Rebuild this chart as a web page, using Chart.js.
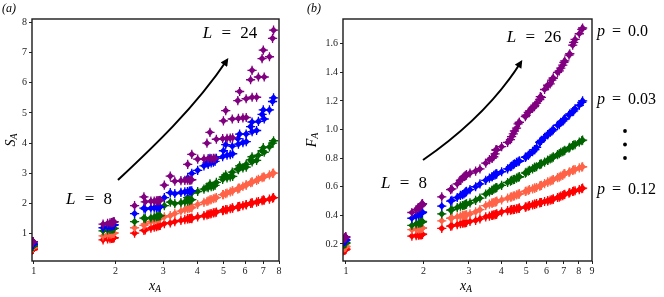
<!DOCTYPE html>
<html><head><meta charset="utf-8">
<script src="https://cdn.jsdelivr.net/npm/chart.js@4.4.1/dist/chart.umd.min.js"></script>
<style>
html,body{margin:0;padding:0;background:#fff;width:664px;height:297px;overflow:hidden;}
#wrap{position:relative;width:664px;height:297px;}
canvas{position:absolute;top:0;}
.t{position:absolute;font-family:"Liberation Serif","DejaVu Serif",serif;color:#000;white-space:nowrap;line-height:1;}
.c{transform:translate(-50%,-50%);}
.l{transform:translate(0,-50%);}
.r{transform:translate(-50%,-50%) rotate(-90deg);}
.i{font-style:italic;}
.ws{word-spacing:5px;}
.wp{word-spacing:3px;}
sub{font-size:70%;vertical-align:-0.25em;line-height:0;}
</style></head><body>
<div id="wrap">
<canvas id="ca" width="290" height="297" style="left:0"></canvas>
<canvas id="cb" width="300" height="297" style="left:300px"></canvas>
<svg width="664" height="297" style="position:absolute;left:0;top:0;pointer-events:none">
<defs><marker id="ah" viewBox="0 0 10 10" refX="7" refY="5" markerWidth="4.5" markerHeight="4" orient="auto" markerUnits="strokeWidth"><path d="M0,0 L10,5 L0,10 z" fill="#000"/></marker></defs>
<path d="M118,180 C150,150 195,108 227,60" stroke="#000" stroke-width="2" fill="none" marker-end="url(#ah)"/>
<path d="M423,160 C452,140 492,108 521,62" stroke="#000" stroke-width="2" fill="none" marker-end="url(#ah)"/>
<circle cx="625" cy="131" r="1.9" fill="#000"/>
<circle cx="625" cy="144.5" r="1.9" fill="#000"/>
<circle cx="625" cy="158" r="1.9" fill="#000"/>
</svg>
<div class="t" style="left:2px;top:2px;font-size:12px"><span class="i">(a)</span></div>
<div class="t" style="left:307px;top:2px;font-size:12px"><span class="i">(b)</span></div>
<div class="t r" style="left:11px;top:140px;font-size:14px"><span class="i">S<sub>A</sub></span></div>
<div class="t r" style="left:312px;top:140px;font-size:14px"><span class="i">F<sub>A</sub></span></div>
<div class="t c" style="left:155px;top:286px;font-size:14px"><span class="i">x<sub>A</sub></span></div>
<div class="t c" style="left:466px;top:286px;font-size:14px"><span class="i">x<sub>A</sub></span></div>
<div class="t c ws" style="left:230px;top:32px;font-size:17px"><span class="i">L</span> = 24</div>
<div class="t c ws" style="left:89px;top:198px;font-size:17px"><span class="i">L</span> = 8</div>
<div class="t c ws" style="left:534px;top:36px;font-size:17px"><span class="i">L</span> = 26</div>
<div class="t c ws" style="left:404px;top:182px;font-size:17px"><span class="i">L</span> = 8</div>
<div class="t l wp" style="left:597px;top:31px;font-size:16px"><span class="i">p</span> = 0.0</div>
<div class="t l wp" style="left:597px;top:99px;font-size:16px"><span class="i">p</span> = 0.03</div>
<div class="t l wp" style="left:597px;top:189px;font-size:16px"><span class="i">p</span> = 0.12</div>
</div>
<script>
// ---- tick labels ----
const xTicksA = [1, 2, 3, 4, 5, 6, 7, 8];
const yTicksA = [1, 2, 3, 4, 5, 6, 7, 8];
const xTicksB = [1, 2, 3, 4, 5, 6, 7, 8, 9];
const yTicksB = [0.2, 0.4, 0.6, 0.8, 1.0, 1.2, 1.4, 1.6];

// ---- x_A positions (grouped by L = 8,10,...,24) panel (a) ----
const xA_a = [
 0.974,1.801,2.352,2.546,
 0.984,1.871,2.575,3.027,3.183,
 0.989,1.910,2.701,3.308,3.690,3.820,
 0.992,1.933,2.778,3.484,4.015,4.344,4.456,
 0.994,1.949,2.830,3.601,4.235,4.705,4.995,5.093,
 0.995,1.960,2.865,3.683,4.389,4.962,5.384,5.643,5.730,
 0.996,1.967,2.890,3.742,4.502,5.150,5.672,6.055,6.288,6.366,
 0.997,1.973,2.909,3.786,4.586,5.292,5.892,6.370,6.719,6.931,7.003,
 0.997,1.977,2.923,3.820,4.651,5.402,6.061,6.616,7.058,7.379,7.574,7.639];

// ---- S_A values, panel (a) ----
const S_p000 = [
 0.72,1.32,1.93,2.22,
 0.72,1.35,2.06,2.61,2.91,
 0.72,1.36,2.08,2.74,3.30,3.63,
 0.73,1.37,2.08,2.76,3.47,4.00,4.36,
 0.73,1.38,2.09,2.77,3.48,4.13,4.74,5.08,
 0.73,1.38,2.10,2.78,3.49,4.15,4.80,5.41,5.71,
 0.73,1.39,2.10,2.78,3.49,4.16,4.82,5.47,6.10,6.41,
 0.74,1.39,2.10,2.78,3.50,4.17,4.84,5.52,6.19,6.80,7.08,
 0.74,1.40,2.11,2.79,3.50,4.18,4.85,5.52,6.19,6.86,7.47,7.74];
const S_p003 = [
 0.64,1.20,1.67,1.85,
 0.64,1.23,1.82,2.20,2.36,
 0.65,1.25,1.85,2.33,2.85,3.00,
 0.65,1.26,1.86,2.37,3.10,3.35,3.50,
 0.65,1.27,1.87,2.39,3.25,3.50,3.75,3.95,
 0.66,1.28,1.88,2.40,3.30,3.55,3.90,4.15,4.30,
 0.66,1.28,1.88,2.41,3.35,3.60,3.97,4.30,4.55,4.70,
 0.66,1.29,1.89,2.42,3.37,3.62,4.02,4.38,4.72,4.95,5.10,
 0.66,1.30,1.89,2.42,3.40,3.65,4.05,4.42,4.80,5.10,5.38,5.50];
const S_p006 = [
 0.58,1.10,1.40,1.52,
 0.58,1.13,1.50,1.93,2.05,
 0.59,1.15,1.53,2.00,2.20,2.35,
 0.59,1.16,1.55,2.03,2.40,2.55,2.65,
 0.59,1.16,1.57,2.06,2.48,2.70,2.88,2.95,
 0.60,1.17,1.58,2.08,2.53,2.80,3.04,3.15,3.25,
 0.60,1.17,1.59,2.10,2.56,2.85,3.12,3.30,3.45,3.55,
 0.60,1.18,1.60,2.12,2.58,2.88,3.18,3.38,3.60,3.75,3.85,
 0.60,1.18,1.60,2.13,2.60,2.90,3.21,3.43,3.70,3.88,4.00,4.08];
const S_p009 = [
 0.52,0.93,1.20,1.28,
 0.53,0.97,1.33,1.56,1.60,
 0.53,0.99,1.40,1.67,1.84,1.86,
 0.54,1.00,1.44,1.75,1.97,2.07,2.12,
 0.54,1.01,1.47,1.80,2.04,2.20,2.30,2.33,
 0.54,1.01,1.49,1.83,2.09,2.30,2.42,2.48,2.51,
 0.55,1.02,1.50,1.85,2.13,2.35,2.51,2.62,2.69,2.72,
 0.55,1.02,1.51,1.87,2.16,2.39,2.57,2.71,2.80,2.86,2.88,
 0.55,1.03,1.52,1.88,2.18,2.42,2.61,2.77,2.88,2.95,3.00,3.01];
const S_p012 = [
 0.46,0.80,1.02,1.11,
 0.47,0.83,1.13,1.34,1.36,
 0.47,0.84,1.19,1.40,1.50,1.50,
 0.48,0.85,1.22,1.44,1.56,1.63,1.66,
 0.48,0.86,1.24,1.47,1.60,1.72,1.78,1.80,
 0.48,0.86,1.26,1.49,1.64,1.77,1.86,1.89,1.91,
 0.49,0.87,1.27,1.50,1.67,1.80,1.90,1.97,2.01,2.03,
 0.49,0.87,1.28,1.51,1.69,1.83,1.93,2.01,2.07,2.10,2.12,
 0.49,0.87,1.28,1.52,1.70,1.85,1.96,2.05,2.11,2.15,2.18,2.20];

// ---- x_A positions (L = 8,...,26) panel (b) ----
const xA_b = [
 0.974,1.801,2.352,2.546,
 0.984,1.871,2.575,3.027,3.183,
 0.989,1.910,2.701,3.308,3.690,3.820,
 0.992,1.933,2.778,3.484,4.015,4.344,4.456,
 0.994,1.949,2.830,3.601,4.235,4.705,4.995,5.093,
 0.995,1.960,2.865,3.683,4.389,4.962,5.384,5.643,5.730,
 0.996,1.967,2.890,3.742,4.502,5.150,5.672,6.055,6.288,6.366,
 0.997,1.973,2.909,3.786,4.586,5.292,5.892,6.370,6.719,6.931,7.003,
 0.997,1.977,2.923,3.820,4.651,5.402,6.061,6.616,7.058,7.379,7.574,7.639,
 0.997,1.981,2.935,3.846,4.701,5.488,6.195,6.811,7.329,7.738,8.035,8.216,8.276];

// ---- F_A values, panel (b) ----
const F_p000 = [
 0.235,0.42,0.53,0.58,
 0.24,0.44,0.585,0.695,0.71,
 0.242,0.45,0.62,0.725,0.80,0.86,
 0.244,0.46,0.645,0.765,0.88,0.93,0.97,
 0.245,0.465,0.66,0.79,0.91,1.05,1.10,1.12,
 0.246,0.47,0.67,0.80,0.95,1.09,1.16,1.21,1.225,
 0.247,0.475,0.675,0.81,0.99,1.13,1.23,1.31,1.345,1.36,
 0.248,0.478,0.677,0.83,1.01,1.15,1.28,1.36,1.41,1.45,1.47,
 0.249,0.48,0.68,0.855,1.04,1.17,1.305,1.40,1.48,1.53,1.59,1.61,
 0.25,0.482,0.685,0.86,1.05,1.185,1.32,1.43,1.52,1.63,1.67,1.70,1.71];
const F_p003 = [
 0.215,0.38,0.465,0.50,
 0.22,0.395,0.505,0.58,0.60,
 0.222,0.405,0.525,0.62,0.67,0.69,
 0.223,0.41,0.54,0.645,0.705,0.74,0.755,
 0.224,0.413,0.545,0.66,0.725,0.78,0.81,0.82,
 0.225,0.416,0.55,0.67,0.745,0.805,0.86,0.91,0.925,
 0.226,0.418,0.558,0.68,0.76,0.83,0.915,0.965,0.99,1.0,
 0.227,0.42,0.562,0.683,0.77,0.845,0.945,1.0,1.035,1.06,1.07,
 0.228,0.421,0.565,0.688,0.775,0.86,0.965,1.03,1.075,1.11,1.125,1.13,
 0.229,0.422,0.568,0.69,0.78,0.875,0.98,1.05,1.10,1.145,1.17,1.19,1.20];
const F_p006 = [
 0.195,0.33,0.41,0.437,
 0.20,0.34,0.44,0.487,0.505,
 0.202,0.345,0.455,0.52,0.575,0.595,
 0.203,0.348,0.465,0.548,0.61,0.64,0.65,
 0.204,0.35,0.468,0.565,0.63,0.67,0.70,0.71,
 0.205,0.352,0.47,0.575,0.645,0.695,0.735,0.755,0.76,
 0.206,0.354,0.474,0.583,0.652,0.715,0.758,0.785,0.80,0.808,
 0.207,0.355,0.476,0.588,0.66,0.725,0.772,0.808,0.832,0.845,0.85,
 0.207,0.356,0.478,0.592,0.665,0.735,0.785,0.825,0.855,0.875,0.888,0.892,
 0.208,0.357,0.48,0.595,0.67,0.74,0.795,0.84,0.87,0.895,0.912,0.922,0.926];
const F_p009 = [
 0.172,0.30,0.362,0.38,
 0.175,0.303,0.382,0.41,0.425,
 0.178,0.305,0.39,0.44,0.485,0.495,
 0.18,0.307,0.395,0.468,0.508,0.528,0.535,
 0.18,0.308,0.398,0.478,0.52,0.55,0.57,0.575,
 0.181,0.309,0.40,0.485,0.53,0.567,0.59,0.605,0.61,
 0.182,0.31,0.40,0.49,0.537,0.58,0.608,0.633,0.645,0.65,
 0.182,0.31,0.401,0.493,0.543,0.585,0.622,0.65,0.668,0.68,0.69,
 0.183,0.311,0.402,0.497,0.547,0.59,0.632,0.664,0.692,0.705,0.715,0.718,
 0.184,0.312,0.403,0.50,0.55,0.595,0.64,0.675,0.70,0.72,0.732,0.738,0.74];
const F_p012 = [
 0.152,0.255,0.309,0.325,
 0.155,0.258,0.327,0.357,0.365,
 0.158,0.262,0.335,0.375,0.40,0.408,
 0.16,0.264,0.342,0.39,0.425,0.437,0.44,
 0.16,0.265,0.345,0.395,0.433,0.45,0.46,0.464,
 0.161,0.266,0.347,0.40,0.44,0.458,0.477,0.488,0.49,
 0.162,0.266,0.349,0.403,0.442,0.468,0.49,0.502,0.51,0.514,
 0.162,0.267,0.35,0.405,0.446,0.473,0.497,0.514,0.527,0.538,0.545,
 0.163,0.267,0.351,0.407,0.448,0.478,0.501,0.525,0.547,0.56,0.567,0.569,
 0.164,0.268,0.352,0.41,0.45,0.482,0.507,0.535,0.555,0.572,0.58,0.587,0.59];

const colors = {p000:'#800080', p003:'#0000ff', p006:'#006400', p009:'#ff6347', p012:'#ff0000'};

Chart.defaults.font.family = '"Liberation Serif","DejaVu Serif",serif';
Chart.defaults.font.size = 10;
Chart.defaults.color = '#222';

function zip(xs, ys){ return xs.map((x,i)=>({x:x, y:ys[i]})); }
function seriesSets(xs, ys, col){
  const pts = zip(xs, ys);
  return [
    {data:pts, pointStyle:'cross', pointRadius:4.6, borderColor:col, backgroundColor:col, pointBorderWidth:1.3},
    {data:pts, pointStyle:'rectRot', pointRadius:3.6, borderColor:col, backgroundColor:col, pointBorderWidth:0}
  ];
}
const framePlugin = {id:'frame', afterDraw(c){
  const {ctx, chartArea:a} = c; ctx.save(); ctx.strokeStyle='#1a1a1a'; ctx.lineWidth=1.4;
  ctx.strokeRect(a.left, a.top, a.right-a.left, a.bottom-a.top); ctx.restore(); }};

function makeChart(id, xs, series, xr, yr, xt, yt, yW, padR, yFmt){
  const ds = [];
  series.forEach(s => ds.push(...seriesSets(xs, s[0], s[1])));
  return new Chart(document.getElementById(id), {
    type:'scatter',
    data:{datasets:ds},
    plugins:[framePlugin],
    options:{
      responsive:false, animation:false, events:[],
      layout:{padding:{left:0, top:19, right:padR, bottom:0}},
      plugins:{legend:{display:false}, tooltip:{enabled:false}},
      scales:{
        x:{type:'logarithmic', min:xr[0], max:xr[1],
           afterBuildTicks:(s)=>{ s.ticks = xt.map(v=>({value:v})); },
           afterFit:(s)=>{ s.height = 36; },
           border:{display:false},
           grid:{drawOnChartArea:false, drawTicks:true, tickLength:3, color:'#222', lineWidth:1},
           ticks:{autoSkip:false, maxRotation:0, padding:1, callback:(v)=>String(v)}},
        y:{type:'linear', min:yr[0], max:yr[1],
           afterBuildTicks:(s)=>{ s.ticks = yt.map(v=>({value:v})); },
           afterFit:(s)=>{ s.width = yW; },
           border:{display:false},
           grid:{drawOnChartArea:false, drawTicks:true, tickLength:3, color:'#222', lineWidth:1},
           ticks:{autoSkip:false, padding:2, callback:yFmt}}
      }
    }
  });
}

makeChart('ca', xA_a,
  [[S_p000,colors.p000],[S_p003,colors.p003],[S_p006,colors.p006],[S_p009,colors.p009],[S_p012,colors.p012]],
  [0.986, 8.0], [0.1, 8.11], xTicksA, yTicksA, 32, 11, (v)=>String(v));
makeChart('cb', xA_b,
  [[F_p000,colors.p000],[F_p003,colors.p003],[F_p006,colors.p006],[F_p009,colors.p009],[F_p012,colors.p012]],
  [0.9736, 9.0], [0.081, 1.773], xTicksB, yTicksB, 43, 8, (v)=>Number(v).toFixed(1));
</script>
</body></html>
